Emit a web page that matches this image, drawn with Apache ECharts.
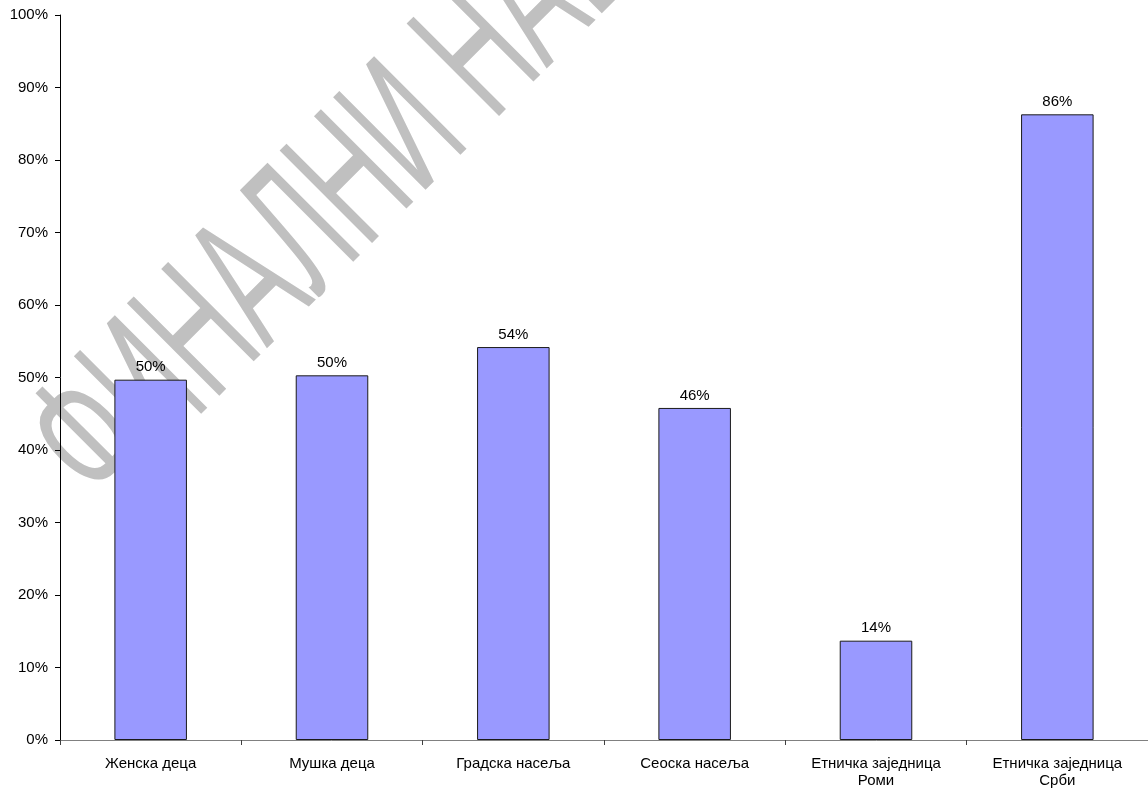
<!DOCTYPE html>
<html>
<head>
<meta charset="utf-8">
<script src="https://cdn.jsdelivr.net/npm/echarts@6/dist/echarts.min.js"></script>
<style>
html,body{margin:0;padding:0;background:#fff;}
#chart{width:1148px;height:790px;}
</style>
</head>
<body>
<div id="chart"></div>
<script>
// Data
const categories = ['Женска деца', 'Мушка деца', 'Градска насеља', 'Сеоска насеља', 'Етничка заједница\nРоми', 'Етничка заједница\nСрби'];
const values = [49.7, 50.3, 54.2, 45.8, 13.7, 86.3];
const yTicks = [0, 10, 20, 30, 40, 50, 60, 70, 80, 90, 100];
const watermarkText = 'ФИНАЛНИ НАЦРТ';

const chart = echarts.init(document.getElementById('chart'), null, {renderer: 'canvas'});
const font = '"Liberation Sans", Arial, sans-serif';

chart.setOption({
  animation: false,
  backgroundColor: '#ffffff',
  graphic: [{
    type: 'text',
    z: -10,
    silent: true,
    x: 67,
    y: 474,
    rotation: Math.PI / 4,
    scaleX: 0.55,
    scaleY: 1,
    style: {
      text: watermarkText,
      font: '190px "Liberation Sans", Arial, sans-serif',
      fill: '#c0c0c0',
      textAlign: 'left',
      textVerticalAlign: 'middle'
    }
  }],
  grid: {left: 60, right: -9, top: 15, bottom: 50, containLabel: false},
  xAxis: {
    type: 'category',
    data: categories,
    axisLine: {show: true, lineStyle: {color: '#808080', width: 1}},
    axisTick: {show: true, alignWithLabel: false, length: 5, inside: false, lineStyle: {color: '#404040'}},
    axisLabel: {color: '#000', fontFamily: font, fontSize: 15, margin: 15, lineHeight: 17, interval: 0},
    splitLine: {show: false}
  },
  yAxis: {
    type: 'value',
    min: yTicks[0],
    max: yTicks[yTicks.length - 1],
    interval: 10,
    axisLine: {show: true, lineStyle: {color: '#000', width: 1}},
    axisTick: {show: true, length: 5, lineStyle: {color: '#000'}},
    axisLabel: {color: '#000', fontFamily: font, fontSize: 15, margin: 12, formatter: v => v + '%'},
    splitLine: {show: false}
  },
  series: [{
    type: 'bar',
    data: values,
    barWidth: '40%',
    itemStyle: {color: '#9999ff', borderColor: '#1a1a1a', borderWidth: 1},
    label: {
      show: true,
      position: 'top',
      distance: 5,
      color: '#000',
      fontFamily: font,
      fontSize: 15,
      formatter: p => Math.round(p.value) + '%'
    }
  }]
});
</script>
</body>
</html>
